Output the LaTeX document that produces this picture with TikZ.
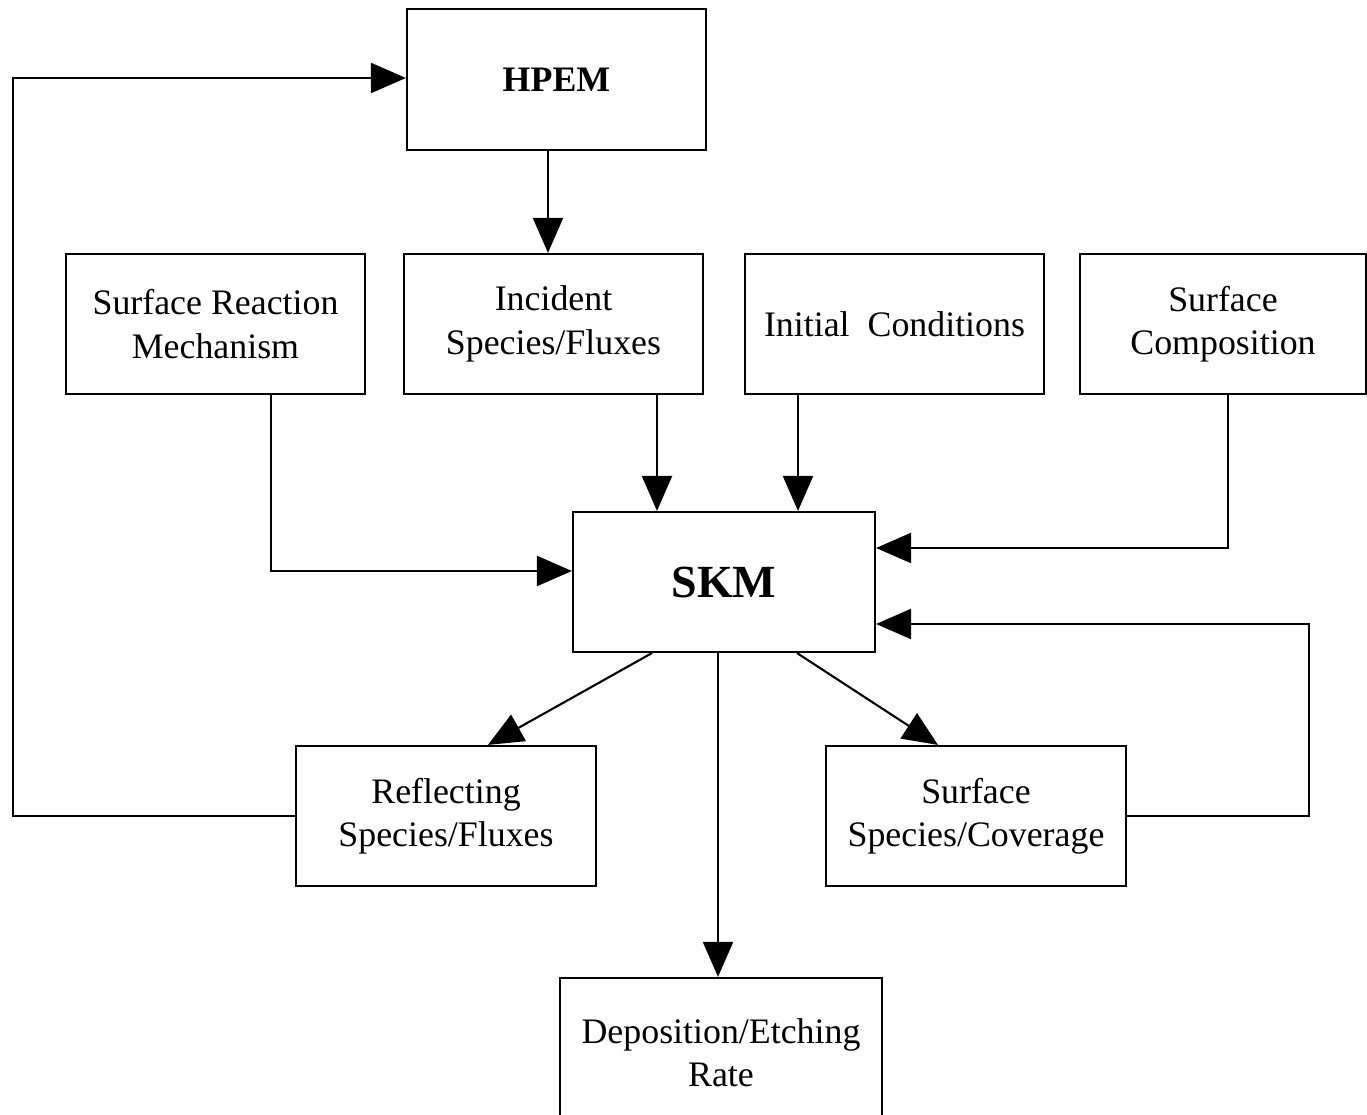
\documentclass[tikz,border=0pt]{standalone}
\usepackage{fontspec}
\setmainfont{Liberation Serif}
\usepackage{tikz}
\usetikzlibrary{arrows.meta, positioning}

\begin{document}
\begin{tikzpicture}[
  box/.style={draw, line width=0.6pt, align=center, minimum width=2.99cm, minimum height=1.40cm,
    inner sep=0pt, font=\fontsize{10.2}{12.3}\selectfont},
  link/.style={line width=0.6pt, -{Triangle[length=0.35cm, width=0.30cm]}},
  >=Stealth
]
\useasboundingbox (0,0) rectangle (13.67,-11.15);
\node[box, font=\fontsize{10.2}{12.3}\selectfont\bfseries, minimum height=1.41cm] (hpem) at (5.565,-0.795) {HPEM};
\node[box] (mech) at (2.155,-3.24) {Surface Reaction\\Mechanism};
\node[box] (inc) at (5.535,-3.24) {Incident\\Species/Fluxes};
\node[box] (init) at (8.945,-3.24) {Initial~~Conditions};
\node[box, minimum width=2.86cm] (comp) at (12.23,-3.24) {Surface\\Composition};
\node[box, font=\fontsize{13.1}{15}\selectfont\bfseries, minimum width=3.02cm] (skm) at (7.24,-5.82) {SKM};
\node[box, minimum width=3.00cm] (refl) at (4.46,-8.16) {Reflecting\\Species/Fluxes};
\node[box, minimum width=3.00cm] (cover) at (9.76,-8.16) {Surface\\Species/Coverage};
\node[box, minimum width=3.22cm, minimum height=1.50cm] (rate) at (7.21,-10.53) {Deposition/Etching\\Rate};
\draw[link] (hpem.south -| 5.48,0) -- (inc.north -| 5.48,0);
\draw[link] (inc.south -| 6.57,0) -- (skm.north -| 6.57,0);
\draw[link] (init.south -| 7.98,0) -- (skm.north -| 7.98,0);
\draw[link] (mech.south -| 2.71,0) |- ([yshift=0.11cm]skm.west);
\draw[link] (comp.south -| 12.28,0) |- ([yshift=0.34cm]skm.east);
\draw[link] (cover.east) -| (13.09,-6.24) -- (skm.east |- 0,-6.24);
\draw[link] (skm.south -| 6.52,0) -- (refl.north -| 4.88,0);
\draw[link] (skm.south -| 7.97,0) -- (cover.north -| 9.38,0);
\draw[link] (skm.south -| 7.18,0) -- (rate.north -| 7.18,0);
\draw[link] (refl.west) -| (0.13,-0.78) -- (hpem.west |- 0,-0.78);
\end{tikzpicture}
\end{document}
